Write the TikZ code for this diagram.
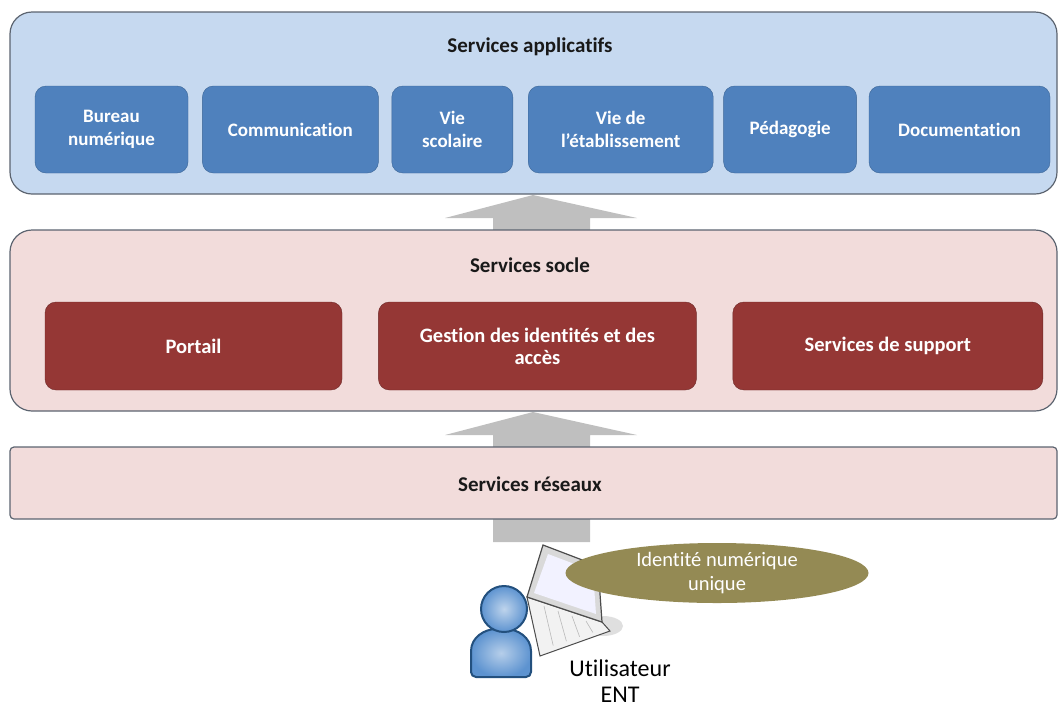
\documentclass[tikz,border=0pt]{standalone}
\usepackage{fontspec}
\setmainfont{Carlito}[Ligatures={TeX,NoCommon}]
\usetikzlibrary{positioning,shapes.geometric,calc}

\definecolor{applifill}{HTML}{C6D9F0}
\definecolor{soclefill}{HTML}{F2DCDB}
\definecolor{layerline}{HTML}{5C6470}
\definecolor{appliblue}{HTML}{4F81BD}
\definecolor{appliline}{HTML}{3B6596}
\definecolor{soclered}{HTML}{953735}
\definecolor{socleline}{HTML}{6E2A29}
\definecolor{arrowgray}{HTML}{BFBFBF}
\definecolor{identolive}{HTML}{948A54}
\definecolor{personblue}{HTML}{5D93D0}
\definecolor{personline}{HTML}{23507E}

\begin{document}
\begin{tikzpicture}[x=1pt,y=-1pt,
    layer/.style={rectangle, draw=layerline, line width=1.2pt, rounded corners=22pt, minimum width=1047pt},
    title/.style={font=\fontsize{21}{25}\selectfont\bfseries, text=black!90},
    appli/.style={rectangle, draw=appliline, fill=appliblue, rounded corners=11pt, text=white, align=center,
        inner sep=0pt, minimum height=87pt, font=\fontsize{19}{23}\selectfont\bfseries},
    socle/.style={rectangle, draw=socleline, fill=soclered, rounded corners=11pt, text=white, align=center,
        inner sep=0pt, minimum height=88pt, font=\fontsize{20.5}{22}\selectfont\bfseries},
    bigarrow/.style={fill=arrowgray}]

    \useasboundingbox (0,0) rectangle (1059,713);

    \foreach \tip/\tail in {195/262, 412/480, 470/542}
        \fill[bigarrow] (493,\tail) -- (493,\tip+23) -- (445,\tip+23) -- (533,\tip) -- (637,\tip+23) -- (590,\tip+23) -- (590,\tail) -- cycle;

    \node[layer, fill=applifill, minimum height=182pt] (applis) at (533.5,103) {};
    \node[layer, fill=soclefill, minimum height=181pt] (socles) at (533.5,320.5) {};
    \node[layer, fill=soclefill, minimum height=72pt, rounded corners=4pt] (reseaux) at (533.5,483) {};

    \node[title] (tapplis) at (530,47) {Services applicatifs};
    \node[title] (tsocles) at (530,265) {Services socle};
    \node[title] (treseaux) at (530,484) {Services réseaux};

    \node[appli, minimum width=153pt] (bureau) at (111.5,129.5) {Bureau\\numérique};
    \node[appli, minimum width=176pt, right=14pt of bureau] (comm) {Communication};
    \node[appli, minimum width=121pt, right=13pt of comm] (viesco) {Vie\\scolaire};
    \node[appli, minimum width=185pt, right=15pt of viesco] (vieetab) {Vie de\\l’établissement};
    \node[appli, minimum width=133pt, right=10pt of vieetab] (peda) {Pédagogie};
    \node[appli, minimum width=181pt, right=12pt of peda] (docu) {Documentation};

    \node[socle, minimum width=297pt] (portail) at (193.5,346) {Portail};
    \node[socle, minimum width=318pt, right=36pt of portail] (gestion) {Gestion des identités et des\\accès};
    \node[socle, minimum width=310pt, right=36pt of gestion] (support) {Services de support};

    \fill[gray!25] (603,626) ellipse (20pt and 10pt);
    \filldraw[draw=gray!60!black, fill=gray!10, line width=1pt] (527,597) -- (602,622) -- (610,631) -- (540,656) -- cycle;
    \foreach \k in {0.2,0.4,0.6,0.8}
        \draw[gray!55, line width=0.6pt] ($(530,601)!\k!(600,626)$) -- ($(540,650)!\k!(606,628)$);
    \filldraw[draw=gray!60!black, fill=gray!30, line width=1.2pt] (543,545) -- (598,566) -- (602,622) -- (527,597) -- cycle;
    \fill[blue!5] (548,554) -- (593,571) -- (596,614) -- (534,593) -- cycle;

    \node[ellipse, fill=identolive, minimum width=303pt, minimum height=60pt, inner sep=0pt, text=white, align=center,
        font=\fontsize{20.5}{24}\selectfont] (ident) at (717,573) {Identité numérique\\unique};

    \draw[personline, line width=2pt, inner color=personblue!45!white, outer color=personblue, rounded corners=5pt]
        (471,677) -- (471,656) .. controls (471,637) and (485,629) .. (501,629) .. controls (517,629) and (531,637) .. (531,656) -- (531,677) -- cycle;
    \draw[personline, line width=2pt, inner color=personblue!40!white, outer color=personblue] (504,609) circle (23pt);

    \node[align=center, font=\fontsize{24}{26}\selectfont] (user) at (620,681) {Utilisateur\\ENT};
\end{tikzpicture}
\end{document}
